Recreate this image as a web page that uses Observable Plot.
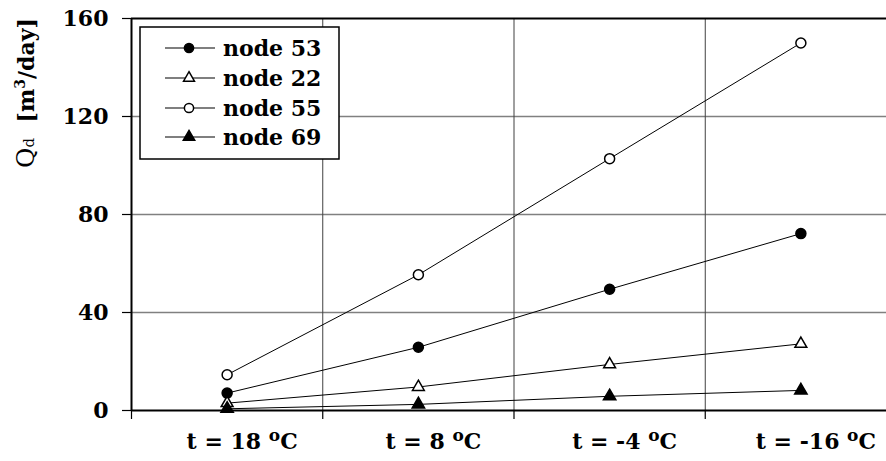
<!DOCTYPE html>
<html><head><meta charset="utf-8">
<script src="https://cdn.jsdelivr.net/npm/d3@7"></script>
<script src="https://cdn.jsdelivr.net/npm/@observablehq/plot@0.6"></script>
<style>
body{margin:0;background:#fff;}
#chart{position:relative;width:886px;height:461px;overflow:hidden;}
</style></head><body><div id="chart"></div>
<script>
const categories = ["t = 18 °C", "t = 8 °C", "t = -4 °C", "t = -16 °C"];
const seriesNames = ["node 53", "node 22", "node 55", "node 69"];
const node53 = [7.1, 25.8, 49.5, 72.2];
const node22 = [3.0, 9.6, 18.8, 27.2];
const node55 = [14.6, 55.4, 102.8, 150.0];
const node69 = [0.7, 2.5, 5.8, 8.2];
const yTicks = [0, 40, 80, 120, 160];

const seriesValues = [node53, node22, node55, node69];
const data = seriesNames.flatMap((s, k) =>
  categories.map((c, i) => ({series: s, cat: c, i: i + 0.5, value: seriesValues[k][i]})));

const styles = {
  "node 53": {symbol: "circle", fill: "black", r: 5},
  "node 22": {symbol: "triangle", fill: "white", r: 4.4},
  "node 55": {symbol: "circle", fill: "white", r: 5},
  "node 69": {symbol: "triangle", fill: "black", r: 4.6}
};

const FONT = "'DejaVu Serif', serif";

const plot = Plot.plot({
  width: 886, height: 461,
  marginLeft: 131, marginTop: 18, marginBottom: 51, marginRight: 0,
  style: {fontFamily: FONT, fontSize: "22px", fontWeight: "bold", background: "white", color: "black"},
  x: {type: "linear", domain: [0, categories.length], range: [131, 896]},
  y: {domain: [0, 160], range: [410, 18]},
  marks: [
    Plot.ruleY(yTicks.slice(1, -1), {stroke: "#808080", strokeWidth: 1.5}),
    Plot.ruleX(d3.range(1, categories.length), {y1: 0, y2: 160, stroke: "#404040", strokeWidth: 1}),
    Plot.ruleY([160], {stroke: "black", strokeWidth: 2}),
    Plot.ruleY([0], {stroke: "black", strokeWidth: 2}),
    Plot.ruleX([0], {y1: 0, y2: 160, stroke: "black", strokeWidth: 2}),
    Plot.axisY({ticks: yTicks, tickSize: 9, tickPadding: 14, tickFormat: d => String(d), label: null, strokeWidth: 1.2}),
    Plot.axisX({ticks: d3.range(0, categories.length + 1), tickSize: 9, tickFormat: () => "", label: null, strokeWidth: 1.2}),
    Plot.axisX({ticks: categories.map((c, i) => i + 0.5), tickSize: 0, tickPadding: 23, dx: 15,
      tickFormat: d => categories[Math.floor(d)], label: null}),
    Plot.line(data, {x: "i", y: "value", z: "series", stroke: "black", strokeWidth: 1}),
    ...seriesNames.map(s => Plot.dot(data.filter(d => d.series === s), {
      x: "i", y: "value", symbol: () => styles[s].symbol, r: styles[s].r,
      fill: styles[s].fill, stroke: "black", strokeWidth: 1.5
    }))
  ],
  symbol: {type: "identity"}
});
document.getElementById("chart").appendChild(plot);

const svg = d3.select(plot);

// superscript "o" in x tick labels
svg.selectAll('g[aria-label="x-axis tick label"] text').each(function() {
  const t = d3.select(this);
  const s = t.text();
  if (!s.includes("°")) return;
  const [a, b] = s.split("°");
  t.text(null);
  t.append("tspan").text(a);
  t.append("tspan").attr("dy", -8).style("font-size", "17px").text("o");
  t.append("tspan").attr("dy", 8).text(b);
});

// y label
const yl = svg.append("text")
  .attr("transform", "translate(34,93) rotate(-90)")
  .attr("text-anchor", "middle")
  .style("font-family", FONT).style("font-size", "22px").style("font-weight", "bold");
yl.append("tspan").style("font-weight", "normal").style("font-size", "25px").text("Q");
yl.append("tspan").style("font-weight", "normal").style("font-size", "15px").text("d");
yl.append("tspan").text("\u00a0 [m");
yl.append("tspan").attr("dy", -9).style("font-size", "14px").text("3");
yl.append("tspan").attr("dy", 9).text("/day]");

// legend
const lg = svg.append("g").attr("aria-label", "legend");
lg.append("rect").attr("x", 140).attr("y", 27).attr("width", 199).attr("height", 132)
  .attr("fill", "white").attr("stroke", "black").attr("stroke-width", 1.5);
const rowY = [48, 78, 108, 137];
seriesNames.forEach((s, k) => {
  const y = rowY[k];
  lg.append("line").attr("x1", 165).attr("x2", 215).attr("y1", y).attr("y2", y)
    .attr("stroke", "#555").attr("stroke-width", 1.5);
  const st = styles[s];
  const type = st.symbol === "circle" ? d3.symbolCircle : d3.symbolTriangle;
  lg.append("path").attr("d", d3.symbol(type, Math.PI * st.r * st.r * 0.85)())
    .attr("transform", `translate(189,${y})`)
    .attr("fill", st.fill).attr("stroke", "black").attr("stroke-width", 1.5);
  lg.append("text").attr("x", 223).attr("y", y).attr("dy", "0.36em")
    .attr("text-anchor", "start")
    .style("font-family", FONT).style("font-size", "22px").style("font-weight", "bold")
    .text(s);
});
</script></body></html>
